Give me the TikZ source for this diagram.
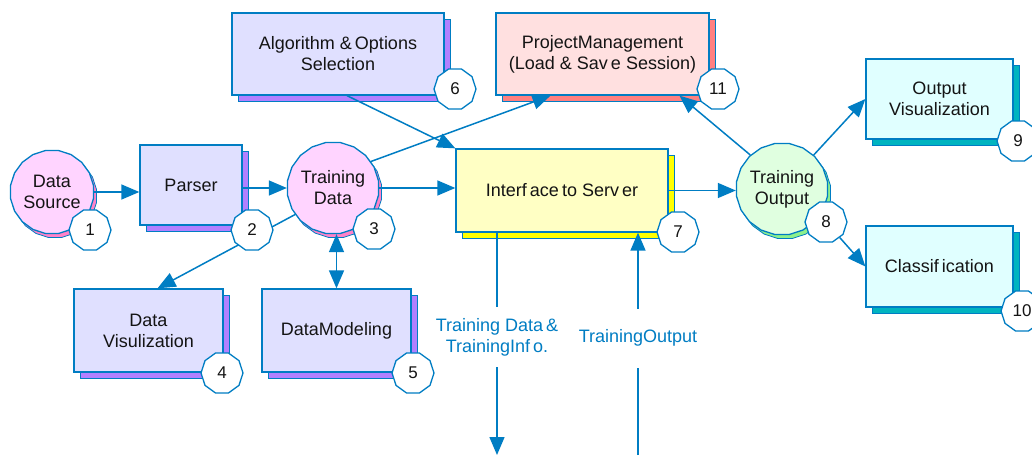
\documentclass[tikz,border=0pt]{standalone}
\usepackage{fontspec}
\setmainfont{Liberation Sans}
\usetikzlibrary{shapes.geometric,shadows,arrows.meta}
\definecolor{lb}{RGB}{0,125,195}
\definecolor{txt}{RGB}{20,20,20}
\definecolor{purpfill}{RGB}{224,224,255}
\definecolor{purpsh}{RGB}{178,128,255}
\definecolor{pinkfill}{RGB}{255,212,255}
\definecolor{pinksh}{RGB}{255,130,200}
\definecolor{greenfill}{RGB}{224,255,224}
\definecolor{greensh}{RGB}{140,240,140}
\definecolor{yelfill}{RGB}{255,255,196}
\definecolor{yelsh}{RGB}{255,255,0}
\definecolor{redfill}{RGB}{255,224,224}
\definecolor{redsh}{RGB}{255,128,128}
\definecolor{cyanfill}{RGB}{224,255,255}
\definecolor{cyansh}{RGB}{0,180,192}
\tikzset{
  lbl/.style={font=\fontsize{18}{21}\selectfont, text=txt, align=center},
  box/.style={rectangle, draw=lb, line width=1.3pt, lbl, inner sep=2pt},
  circ/.style={regular polygon, regular polygon sides=20, draw=lb, line width=1.3pt, lbl, inner sep=0pt, minimum size=84pt},
  shad/.style={copy shadow={shadow xshift=6pt, shadow yshift=-6pt, fill=#1, draw=lb, line width=0.8pt}},
  cshad/.style={copy shadow={shadow xshift=3pt, shadow yshift=-4pt, fill=#1, draw=lb, line width=0.8pt}},
  purpbox/.style={box, fill=purpfill, shad=purpsh},
  badge/.style={regular polygon, regular polygon sides=10, draw=lb, fill=white, line width=1.3pt, minimum size=42pt, inner sep=0pt, font=\fontsize{17}{20}\selectfont, text=txt},
  conn/.style={draw=lb, line width=1.5pt},
  arr/.style={conn, -{Triangle[length=18pt,width=15pt]}},
  darr/.style={conn, {Triangle[length=18pt,width=15pt]}-{Triangle[length=18pt,width=15pt]}},
  elab/.style={fill=white, text=lb, font=\fontsize{18}{21}\selectfont, align=center, inner xsep=2pt}
}
\begin{document}
\begin{tikzpicture}[x=1pt,y=-1pt]
\useasboundingbox (0,0) rectangle (1032,455);
% main nodes
\node[circ, fill=pinkfill, cshad=pinksh] (ds) at (52,192) {Data\\Source};
\node[purpbox, minimum width=102pt, minimum height=80pt] (parser) at (191,185) {Parser};
\node[circ, fill=pinkfill, cshad=pinksh] (td) at (333,188) {Training\\Data};
\node[purpbox, minimum width=149pt, minimum height=83pt] (dv) at (148.5,330.5) {Data\\Visulization};
\node[purpbox, minimum width=149pt, minimum height=83pt] (dm) at (336.5,330.5) {DataModeling};
\node[purpbox, minimum width=212pt, minimum height=82pt] (alg) at (338,54) {Algorithm \&\,Options\\Selection};
\node[box, fill=redfill, shad=redsh, minimum width=213pt, minimum height=82pt] (pm) at (602.5,54) {ProjectManagement\\(Load \& Sav\,e Session)};
\node[box, fill=yelfill, shad=yelsh, minimum width=212pt, minimum height=83pt] (ifs) at (562,190.5) {Interf\,ace\,to Serv\,er};
\node[circ, fill=greenfill, cshad=greensh, minimum size=86pt] (to) at (782,189) {Training\\Output};
\node[box, fill=cyanfill, shad=cyansh, minimum width=147pt, minimum height=80pt] (ov) at (939.5,99) {Output\\Visualization};
\node[box, fill=cyanfill, shad=cyansh, minimum width=147pt, minimum height=81pt] (cl) at (939.5,266.5) {Classif\,ication};
% connectors
\draw[arr] (ds.east) -- (ds.east -| parser.west);
\draw[arr] (td.west -| parser.east) -- (td.west);
\draw[arr] (td.east) -- (td.east -| ifs.west);
\draw[arr] ([xshift=9pt]alg.south) -- (ifs.north west);
\draw[arr] (td.35) -- ([xshift=-52pt]pm.south);
\draw[arr] (td.215) -- ([xshift=9pt]dv.north);
\draw[darr] (dm.north) -- (dm.north |- td.south);
\draw[arr] (ifs.east) -- (ifs.east -| to.west);
\draw[arr] (to.133) -- ([xshift=77pt]pm.south);
\draw[arr] (to.47) -- (ov.west);
\coordinate (tdout) at (497,455);
\coordinate (toin) at (638,455);
\draw[arr] ([xshift=-65pt]ifs.south) -- node[elab, pos=0.47, inner ysep=11pt] {Training Data\,\&\\TrainingInf\,o.} (tdout);
\draw[arr] (toin) -- node[elab, pos=0.525, inner ysep=21pt] {TrainingOutput} ([xshift=76pt]ifs.south);
% badges
\node[badge] (b1) at (90,230) {1};
\node[badge] (b2) at (252,230) {2};
\node[badge] (b3) at (374,229) {3};
\node[badge] (b4) at (222,373) {4};
\node[badge] (b5) at (413,373) {5};
\node[badge] (b6) at (455,89) {6};
\node[badge] (b7) at (678,232) {7};
\node[badge] (b8) at (826,222) {8};
\node[badge] (b9) at (1018,141) {9};
\node[badge] (b10) at (1022,311) {10};
\node[badge] (b11) at (718,89) {11};
\draw[arr] (b8) -- (cl.west);
\end{tikzpicture}
\end{document}
